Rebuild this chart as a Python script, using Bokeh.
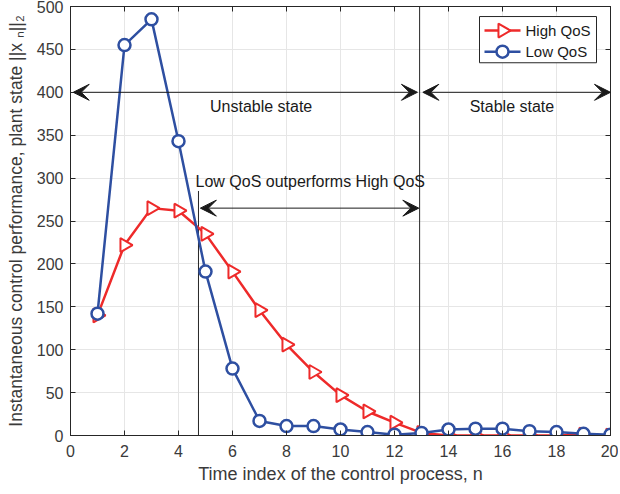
import math
from bokeh.plotting import figure
from bokeh.models import LinearAxis, Arrow, VeeHead, FixedTicker, Range1d, Label
from bokeh.embed import file_html
from bokeh.resources import INLINE

# ---- data ----
n = list(range(1, 21))
high_qos = [140, 222, 265, 262, 235, 191, 146, 106, 74, 47, 28, 15, 3, 0, 0, 0, 0, 0, 1, 0]
low_qos = [142, 455, 485, 343, 191, 78, 17, 11, 11, 7, 4, 1, 3, 7, 8, 8, 5, 4, 2, 1]
series_names = ["High QoS", "Low QoS"]

x_ticks = [0, 2, 4, 6, 8, 10, 12, 14, 16, 18, 20]
y_ticks = [0, 50, 100, 150, 200, 250, 300, 350, 400, 450, 500]

# annotation positions (data units)
vline1_x, vline1_top = 4.74, 285
vline2_x, vline2_top = 12.93, 500
unstable_y = 400
unstable_x0, unstable_x1 = 0.1, 12.85
stable_x0, stable_x1 = 13.05, 20.0
outperf_y = 265
outperf_x0, outperf_x1 = 4.81, 12.9

RED = "#ee2a2a"
BLUE = "#2e4fa1"
TXT = "#3a3a3a"
FONT = "Liberation Sans"

W, H = 618, 490
BL, BR, BT, BB = 70, 8, 6, 55
X_MAX, Y_MAX = 20, 500
frame_w = W - BL - BR
frame_h = H - BT - BB - 2

def sx2x(px):
    return (px - BL) / frame_w * X_MAX

def sy2y(py):
    return (H - BB - py) / frame_h * Y_MAX

p = figure(width=W, height=H, output_backend="svg", toolbar_location=None,
           x_range=Range1d(0, X_MAX), y_range=Range1d(0, Y_MAX),
           min_border_left=BL, min_border_right=BR, min_border_top=BT, min_border_bottom=BB,
           x_axis_label="Time index of the control process, n",
           y_axis_label="Instantaneous control performance, plant state ||x ₙ||₂")
p.outline_line_color = "#262626"
p.outline_line_width = 1
p.background_fill_color = "white"
p.border_fill_color = "white"

for ax in (p.xaxis[0], p.yaxis[0]):
    ax.major_tick_in = 5
    ax.major_tick_out = 0
    ax.minor_tick_in = 0
    ax.minor_tick_out = 0
    ax.axis_line_color = "#262626"
    ax.major_tick_line_color = "#262626"
    ax.major_label_text_font = FONT
    ax.major_label_text_font_size = "16px"
    ax.major_label_text_color = TXT
    ax.axis_label_text_font = FONT
    ax.axis_label_text_font_style = "normal"
    ax.axis_label_text_color = TXT

p.xaxis[0].ticker = FixedTicker(ticks=x_ticks)
p.yaxis[0].ticker = FixedTicker(ticks=y_ticks)
p.xaxis[0].axis_label_text_font_size = "18px"
p.yaxis[0].axis_label_text_font_size = "17.5px"
p.xaxis[0].major_label_standoff = 9
p.xaxis[0].axis_label_standoff = 4
p.yaxis[0].major_label_standoff = 7
p.yaxis[0].axis_label_standoff = 8

# box ticks on top and right (drawn as unlabeled minor ticks)
for loc in ("above", "right"):
    ax = LinearAxis(ticker=FixedTicker(ticks=[], minor_ticks=x_ticks if loc == "above" else y_ticks))
    ax.major_tick_in = 0
    ax.major_tick_out = 0
    ax.minor_tick_in = 5
    ax.minor_tick_out = 0
    ax.major_label_standoff = 0
    ax.axis_line_color = "#262626"
    ax.minor_tick_line_color = "#262626"
    p.add_layout(ax, loc)

p.xgrid.ticker = FixedTicker(ticks=x_ticks)
p.ygrid.ticker = FixedTicker(ticks=y_ticks)
p.xgrid.grid_line_color = "#e6e6e6"
p.ygrid.grid_line_color = "#e6e6e6"

# vertical marker lines
p.segment(x0=[vline1_x, vline2_x], y0=[0, 0], x1=[vline1_x, vline2_x],
          y1=[vline1_top, vline2_top], line_color="#262626", line_width=1)

# arrows
def dbl_arrow(x0, x1, y):
    p.add_layout(Arrow(x_start=x0, y_start=y, x_end=x1, y_end=y,
                       line_color="#1a1a1a", line_width=1,
                       start=VeeHead(size=16, fill_color="#1a1a1a", line_color="#1a1a1a"),
                       end=VeeHead(size=16, fill_color="#1a1a1a", line_color="#1a1a1a")))

dbl_arrow(unstable_x0, unstable_x1, unstable_y)
dbl_arrow(stable_x0, stable_x1, unstable_y)
dbl_arrow(outperf_x0, outperf_x1, outperf_y)

for txt, x, y in [("Unstable state", 7.06, 383),
                  ("Stable state", 16.35, 383),
                  ("Low QoS outperforms High QoS", 8.88, 296.5)]:
    p.add_layout(Label(x=x, y=y, text=txt, text_align="center", text_baseline="middle",
                       text_font=FONT, text_font_size="16px", text_color="#1a1a1a"))

# series
TRI_ANGLE = -math.pi / 2
high_style = dict(marker="triangle", angle=TRI_ANGLE, size=14,
                  line_color=RED, line_width=2, fill_color="white")
low_style = dict(marker="circle", size=12,
                 line_color=BLUE, line_width=2.5, fill_color="white")
p.line(n, high_qos, line_color=RED, line_width=2.5)
p.scatter(n, high_qos, **high_style)
p.line(n, low_qos, line_color=BLUE, line_width=2.5)
p.scatter(n, low_qos, **low_style)

# legend box (screen-pixel layout converted to the fixed data ranges)
LEG_L, LEG_R, LEG_T, LEG_B = 479, 596, 18, 64
ROW_Y = [32, 53]
GLYPH_L, GLYPH_R, TEXT_X = 484, 520, 525
p.quad(left=[sx2x(LEG_L)], right=[sx2x(LEG_R)], top=[sy2y(LEG_T)], bottom=[sy2y(LEG_B)],
       fill_color="white", line_color="#262626", line_width=1)
for name, ry, color, style in zip(series_names, ROW_Y, [RED, BLUE], [high_style, low_style]):
    p.segment(x0=[sx2x(GLYPH_L)], x1=[sx2x(GLYPH_R)], y0=[sy2y(ry)], y1=[sy2y(ry)],
              line_color=color, line_width=2.5)
    p.scatter([sx2x((GLYPH_L + GLYPH_R) / 2)], [sy2y(ry)], **style)
    p.add_layout(Label(x=sx2x(TEXT_X), y=sy2y(ry), text=name, text_align="left",
                       text_baseline="middle", text_font=FONT, text_font_size="15px",
                       text_color="#1a1a1a"))

open("out.html", "w").write(file_html(p, INLINE))
